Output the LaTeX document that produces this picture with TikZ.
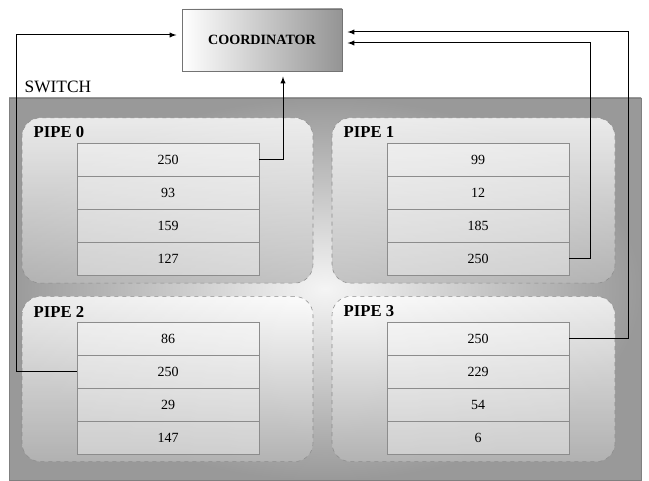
\documentclass[tikz,border=0pt]{standalone}
\usepackage{fontspec}
\setmainfont{Liberation Serif}
\usetikzlibrary{positioning,shapes,calc,arrows}

\begin{document}
\begin{tikzpicture}[x=0.75pt,y=-0.75pt,
    switch box/.style={draw=black!50,inner color=white!96!black,outer color=black!40,
                       minimum width=474pt,minimum height=286.5pt,inner sep=0pt},
    coord box/.style={draw=black!55,left color=white,right color=black!42,
                      minimum width=120pt,minimum height=46.5pt,
                      font=\fontsize{10.6}{12}\selectfont\bfseries},
    pipe box/.style={draw=black!45,dashed,rounded corners=14pt,top color=white,
                     bottom color=black!28,fill opacity=0.8,
                     minimum height=124pt,inner sep=0pt},
    cell/.style={draw=black!45,fill=white,fill opacity=0.35,text opacity=1,
                 minimum width=136.5pt,minimum height=24.75pt,inner sep=0pt,
                 font=\fontsize{10.5}{12}\selectfont},
    pipe label/.style={anchor=base west,font=\fontsize{12.5}{14}\selectfont\bfseries},
    link/.style={draw,line width=0.75pt,->,>=latex,shorten >=4pt}
   ]
   \useasboundingbox (0,0) rectangle (649,481);

   \node[switch box] (switch) at (325,289) {};
   \node[anchor=base west,font=\fontsize{13}{15}\selectfont] (switchlbl) at (20,93) {SWITCH};
   \node[coord box] (coord) at (262,40) {COORDINATOR};

   % the four pipes
   \node[pipe box,minimum width=218.25pt] (pipe0) at (167.5,200.5) {};
   \node[pipe box,minimum width=212.25pt] (pipe1) at (473.5,200.5) {};
   \node[pipe box,minimum width=218.25pt] (pipe2) at (167.5,379) {};
   \node[pipe box,minimum width=212.25pt] (pipe3) at (473.5,379) {};

   \node[pipe label] (lbl0) at (29,138) {PIPE 0};
   \node[pipe label] (lbl1) at (339,138) {PIPE 1};
   \node[pipe label] (lbl2) at (29,317) {PIPE 2};
   \node[pipe label] (lbl3) at (339,316) {PIPE 3};

   % register cells
   \node[cell] (c00) at (168,159.5) {250};
   \node[cell] (c01) at (168,192.5) {93};
   \node[cell] (c02) at (168,225.5) {159};
   \node[cell] (c03) at (168,258.5) {127};

   \node[cell] (c10) at (478,159.5) {99};
   \node[cell] (c11) at (478,192.5) {12};
   \node[cell] (c12) at (478,225.5) {185};
   \node[cell] (c13) at (478,258.5) {250};

   \node[cell] (c20) at (168,338.5) {86};
   \node[cell] (c21) at (168,371.5) {250};
   \node[cell] (c22) at (168,404.5) {29};
   \node[cell] (c23) at (168,437.5) {147};

   \node[cell] (c30) at (478,338.5) {250};
   \node[cell] (c31) at (478,371.5) {229};
   \node[cell] (c32) at (478,404.5) {54};
   \node[cell] (c33) at (478,437.5) {6};

   % bends of the links
   \coordinate (bend0) at (283,159.5);
   \coordinate (bend1) at (590,43);
   \coordinate (bend2) at (16,35);
   \coordinate (bend3) at (628,32);

   \path[link] (c00.east) -- (bend0) -- (bend0 |- coord.south);
   \path[link] (c13.east) -| (bend1) -- (bend1 -| coord.east);
   \path[link] (c21.west) -| (bend2) -- (bend2 -| coord.west);
   \path[link] (c30.east) -| (bend3) -- (bend3 -| coord.east);
  \end{tikzpicture}
\end{document}
